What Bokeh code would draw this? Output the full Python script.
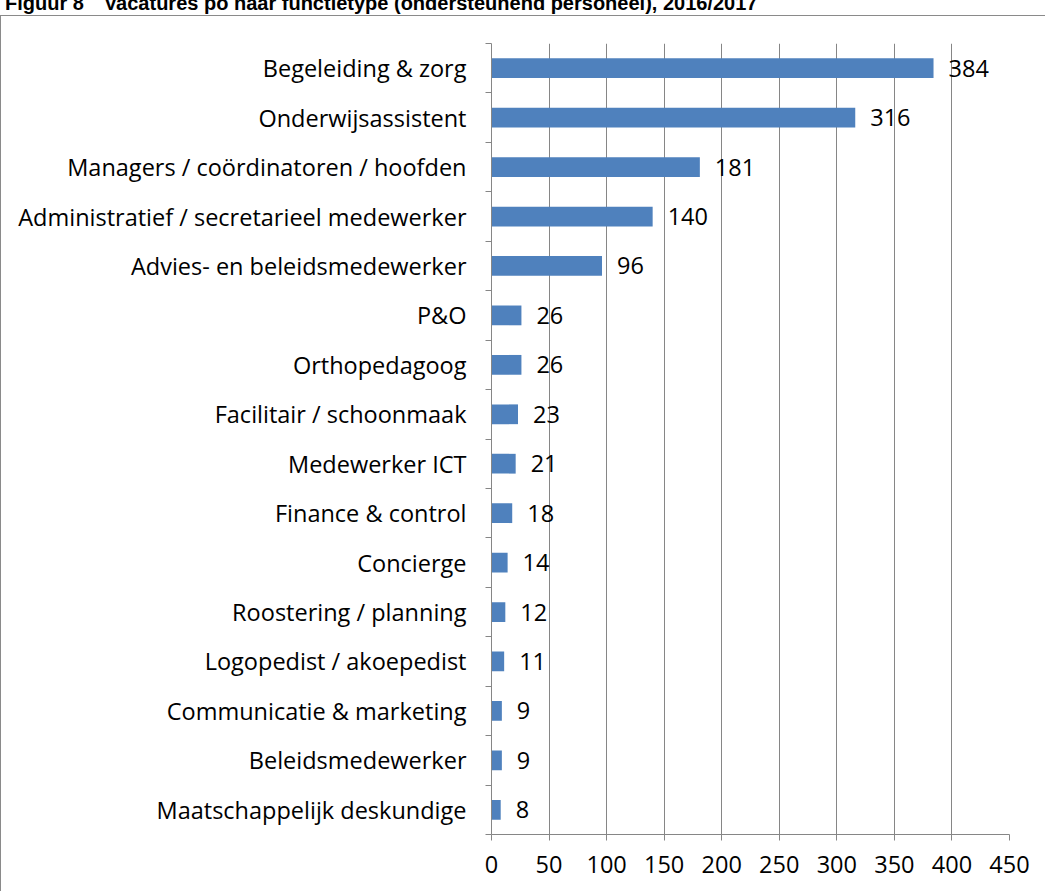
from bokeh.plotting import figure
from bokeh.models import Range1d, FixedTicker, ColumnDataSource, Div, LabelSet
from bokeh.core.properties import value
from bokeh.layouts import column
from bokeh.embed import file_html
from bokeh.resources import INLINE

categories = [
    "Begeleiding & zorg",
    "Onderwijsassistent",
    "Managers / coördinatoren / hoofden",
    "Administratief / secretarieel medewerker",
    "Advies- en beleidsmedewerker",
    "P&O",
    "Orthopedagoog",
    "Facilitair / schoonmaak",
    "Medewerker ICT",
    "Finance & control",
    "Concierge",
    "Roostering / planning",
    "Logopedist / akoepedist",
    "Communicatie & marketing",
    "Beleidsmedewerker",
    "Maatschappelijk deskundige",
]
values = [384, 316, 181, 140, 96, 26, 26, 23, 21, 18, 14, 12, 11, 9, 9, 8]
x_ticks = [0, 50, 100, 150, 200, 250, 300, 350, 400, 450]
title_text = "Figuur 8&emsp;Vacatures po naar functietype (ondersteunend personeel), 2016/2017"

n = len(categories)
ypos = [n - i - 0.5 for i in range(n)]
src = ColumnDataSource(dict(y=ypos, v=values, lab=[str(v) for v in values]))

FONT = "Open Sans"
FS = "23.5px"

title = Div(
    text=('<div style="position:relative; top:-12px; font-family:Arial, \'Liberation Sans\', sans-serif;'
          ' font-weight:bold; font-size:20px; line-height:20px; white-space:nowrap; color:#000;">'
          + title_text + '</div>'),
    width=1046, height=5,
)

p = figure(
    width=1045, height=877,
    x_range=Range1d(0, 450), y_range=Range1d(0, n),
    output_backend="svg", toolbar_location=None,
    min_border_left=490, min_border_right=37, min_border_top=27, min_border_bottom=59,
    styles={"border-left": "1px solid #8a8a8a", "border-top": "1px solid #8a8a8a"},
)
p.outline_line_color = None

p.hbar(y="y", right="v", left=0, height=0.4, source=src, color="#4F81BD", line_color=None)

labels = LabelSet(x="v", y="y", text="lab", source=src, x_offset=15, text_align="left",
                  text_baseline="middle", text_font=value(FONT), text_font_size=FS,
                  text_color="#000000")
p.add_layout(labels)

# x axis
p.xaxis.ticker = FixedTicker(ticks=x_ticks)
p.xaxis.axis_line_color = "#868686"
p.xaxis.major_tick_line_color = "#868686"
p.xaxis.major_tick_out = 6
p.xaxis.major_tick_in = 0
p.xaxis.minor_tick_line_color = None
p.xaxis.major_label_text_font = FONT
p.xaxis.major_label_text_font_size = FS
p.xaxis.major_label_text_color = "#000000"
p.xaxis.major_label_standoff = 15

# y axis
p.yaxis.ticker = FixedTicker(ticks=ypos, minor_ticks=list(range(n + 1)))
p.yaxis.major_label_overrides = {y: c for y, c in zip(ypos, categories)}
p.yaxis.axis_line_color = "#868686"
p.yaxis.major_tick_line_color = None
p.yaxis.major_tick_out = 0
p.yaxis.major_tick_in = 0
p.yaxis.minor_tick_line_color = "#868686"
p.yaxis.minor_tick_out = 6
p.yaxis.minor_tick_in = 0
p.yaxis.major_label_text_font = FONT
p.yaxis.major_label_text_font_size = FS
p.yaxis.major_label_text_color = "#000000"
p.yaxis.major_label_standoff = 19

p.xgrid.grid_line_color = "#868686"
p.xgrid.grid_line_width = 1
p.ygrid.grid_line_color = None

layout = column(title, p, spacing=0)
open("out.html", "w").write(file_html(layout, INLINE))
